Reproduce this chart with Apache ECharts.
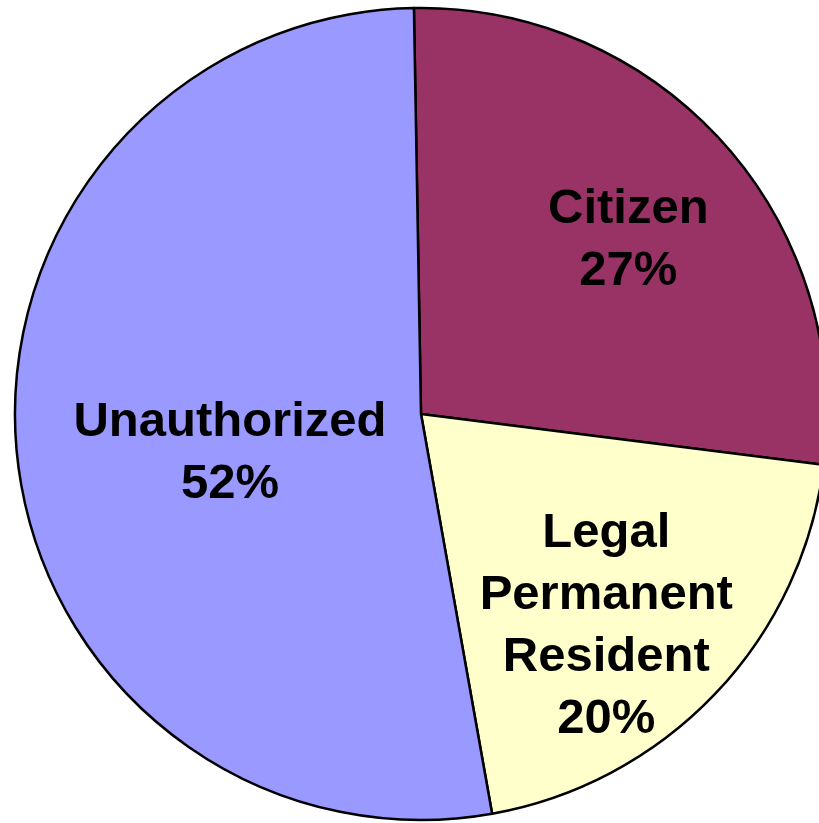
<!DOCTYPE html>
<html>
<head>
<meta charset="utf-8">
<script src="https://cdn.jsdelivr.net/npm/echarts@6/dist/echarts.min.js"></script>
<style>
  html, body { margin: 0; padding: 0; background: #fff; }
  #chart { width: 819px; height: 823px; }
</style>
</head>
<body>
<div id="chart"></div>
<script>
var categories = ['Citizen', 'Legal\nPermanent\nResident', 'Unauthorized'];
var shares = [27, 20, 52];
var colors = ['#993366', '#FFFFCC', '#9999FF'];
// nudges so labels sit where the original put them
var labelShift = [[54, -36], [36, 71], [14, 20]];

var chart = echarts.init(document.getElementById('chart'), null, { renderer: 'canvas' });

chart.setOption({
  animation: false,
  series: [{
    type: 'pie',
    center: [421, 414],
    radius: 406,
    startAngle: 91,
    clockwise: true,
    avoidLabelOverlap: false,
    data: categories.map(function(c, i) {
      return { name: c, value: shares[i], itemStyle: { color: colors[i] } };
    }),
    itemStyle: { borderColor: '#000', borderWidth: 2.5 },
    label: {
      position: 'inside',
      formatter: function(p) { return p.name + '\n' + p.value + '%'; },
      color: '#000',
      fontFamily: 'Liberation Sans, Arial, sans-serif',
      fontWeight: 'bold',
      fontSize: 49,
      lineHeight: 62,
      align: 'center'
    },
    labelLine: { show: false },
    labelLayout: function(p) {
      var s = labelShift[p.dataIndex];
      return { dx: s[0], dy: s[1] };
    },
    emphasis: { disabled: true }
  }]
});
</script>
</body>
</html>
